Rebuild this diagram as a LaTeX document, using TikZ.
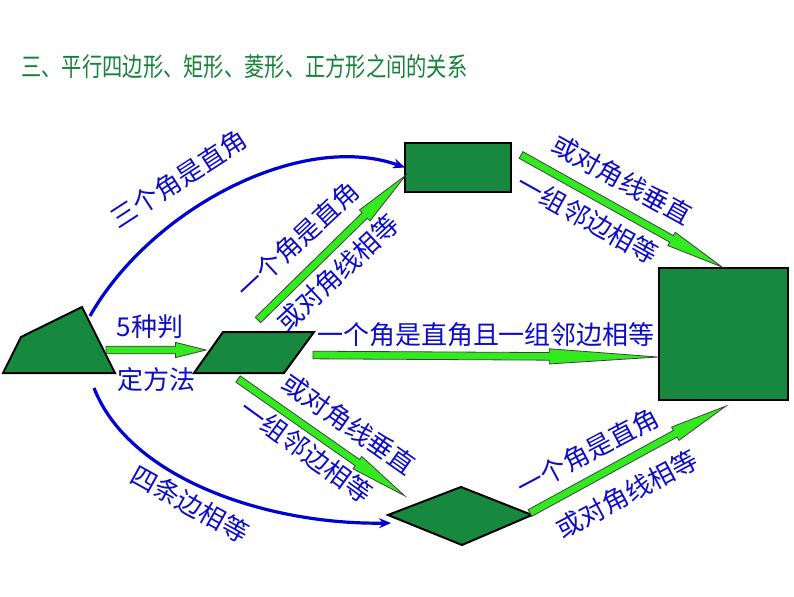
\documentclass[tikz,border=0pt]{standalone}
\usepackage{fontspec}
\setmainfont{Noto Sans CJK SC}
\newfontfamily\titlefont[FakeStretch=0.78]{Noto Sans CJK SC}
\usepackage{xcolor}
\usepackage{tikz}
\usetikzlibrary{arrows.meta,calc,positioning,shapes.arrows}

\definecolor{shapegreen}{RGB}{22,137,62}
\definecolor{titlegreen}{RGB}{24,128,58}
\definecolor{arrowgreen}{RGB}{50,235,30}
\definecolor{labelblue}{RGB}{12,12,200}
\definecolor{curveblue}{RGB}{0,0,210}

% 粗箭头：从 #2 指向 #3
\newcommand{\fatarrow}[3][]{%
  \path let \p1=($(#3)-(#2)$), \n1={veclen(\x1,\y1)}, \n2={atan2(\y1,\x1)} in
    node[fat arrow, #1, minimum height=\n1, rotate=\n2, anchor=tail] at (#2) {};}

\begin{document}
\begin{tikzpicture}[
    x=0.5pt, y=-0.5pt,%按像素坐标
    shape fill/.style={
        fill=shapegreen,
        draw=black,
        line width=1pt,
        line join=miter},
    shape box/.style={
        rectangle,
        shape fill,
        inner sep=0pt,
        outer sep=0pt},
    fat arrow/.style={
        single arrow,
        fill=arrowgreen,
        draw=black!75,
        line width=0.4pt,
        inner xsep=0pt,
        inner ysep=1.7pt,
        outer sep=0pt,
        single arrow head extend=1.9pt,
        single arrow tip angle=15},
    blue curve/.style={
        draw=curveblue,
        line width=1.6pt,
        -{Stealth[length=6pt,width=5pt]}},
    label/.style={
        text=labelblue,
        inner sep=0pt,
        font=\fontsize{13}{15}\selectfont}]%标签
  \useasboundingbox (0,0) rectangle (794,596);
  % 标题
  \node (title) [anchor=west, text=titlegreen, inner sep=0pt,
    font=\titlefont\fontsize{13}{15}\selectfont] at (21,67)
    {三、平行四边形、矩形、菱形、正方形之间的关系};
  % 图形
  \draw[shape fill] (3,373) -- (21,337) -- (82,307) -- (115,373) -- cycle;
  \draw[shape fill] (194,373) -- (223,332) -- (314,332) -- (284,373) -- cycle;
  \draw[shape fill] (388,515) -- (461,487) -- (532,515) -- (462,545) -- cycle;
  \node (rect) [shape box, minimum width=53pt, minimum height=24.5pt] at (458,167.5) {};
  \node (square) [shape box, minimum width=64.5pt, minimum height=66pt] at (723.5,334) {};
  % 箭头端点
  \coordinate (quad top) at (90,316);
  \coordinate (quad bottom) at (94,388);
  \coordinate (rhombus west) at (391,523);
  \coordinate (a1 tail) at (106,350);  \coordinate (a1 tip) at (206,350);
  \coordinate (a2 tail) at (258,320);  \coordinate (a2 tip) at (406,175);
  \coordinate (a3 tail) at (521,155);  \coordinate (a3 tip) at (722,267);
  \coordinate (a4 tail) at (313,355);  \coordinate (a4 tip) at (658,357);
  \coordinate (a5 tail) at (238,379);  \coordinate (a5 tip) at (405,496);
  \coordinate (a6 tail) at (530,513);  \coordinate (a6 tip) at (726,406);
  % 弯箭头
  \draw[blue curve] (quad top) .. controls (150,210) and (300,130) .. (rect.west);
  \draw[blue curve] (quad bottom) .. controls (130,480) and (270,525) .. (rhombus west);
  % 粗箭头
  \fatarrow[single arrow tip angle=28]{a1 tail}{a1 tip}
  \fatarrow{a2 tail}{a2 tip}
  \fatarrow{a3 tail}{a3 tip}
  \fatarrow[single arrow tip angle=8]{a4 tail}{a4 tip}
  \fatarrow{a5 tail}{a5 tip}
  \fatarrow{a6 tail}{a6 tip}
  % 文字
  \node (five ways) [label] at (150,327) {5种判};
  \node (methods) [label] at (157,380) {定方法};
  \node (three right) [label, rotate=33] at (179,179) {三个角是直角};
  \node (one right up) [label, rotate=43] at (298,240) {一个角是直角};
  \node (diag equal up) [label, rotate=43] at (338,273) {或对角线相等};
  \node (diag perp up) [label, rotate=-29] at (622,180) {或对角线垂直};
  \node (adj equal up) [label, rotate=-29] at (588,219) {一组邻边相等};
  \node (both) [label] at (486,335) {一个角是直角且一组邻边相等};
  \node (diag perp down) [label, rotate=-35] at (349,424) {或对角线垂直};
  \node (adj equal down) [label, rotate=-36] at (306,451) {一组邻边相等};
  \node (four sides) [label, rotate=-29] at (190,504) {四条边相等};
  \node (one right down) [label, rotate=28] at (588,452) {一个角是直角};
  \node (diag equal down) [label, rotate=28] at (627,494) {或对角线相等};
\end{tikzpicture}
\end{document}
